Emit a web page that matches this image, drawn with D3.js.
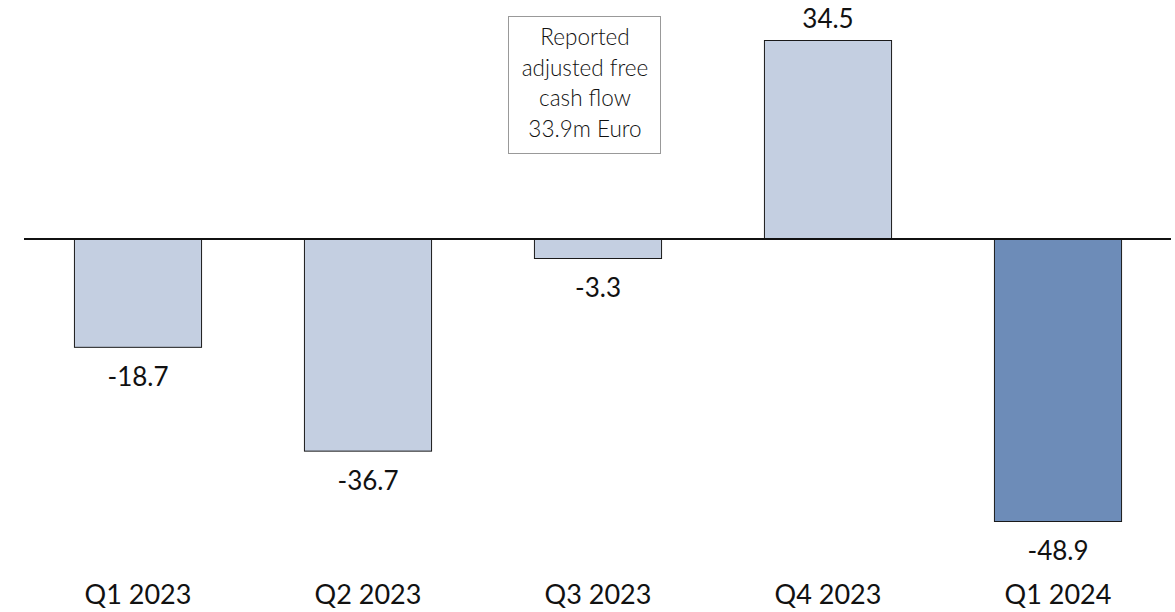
<!DOCTYPE html>
<html>
<head>
<meta charset="utf-8">
<script src="https://cdn.jsdelivr.net/npm/d3@7"></script>
<style>
  body { margin: 0; background: #fff; }
  text { font-family: Lato, "Open Sans", sans-serif; fill: #111; }
</style>
</head>
<body>
<svg id="chart" width="1175" height="612"></svg>
<script>
const quarters = ["Q1 2023", "Q2 2023", "Q3 2023", "Q4 2023", "Q1 2024"];
const cashFlow = [-18.7, -36.7, -3.3, 34.5, -48.9];
const highlight = ["Q1 2024"];
const noteLines = ["Reported", "adjusted free", "cash flow", "33.9m Euro"];

const data = quarters.map((q, i) => ({ q, v: cashFlow[i] }));

const svg = d3.select("#chart");

const x = d3.scaleBand()
  .domain(quarters)
  .range([23, 1173])
  .paddingInner(0.443)
  .paddingOuter(0.2215);

const y = d3.scaleLinear()
  .domain([-48.9, 34.5])
  .range([521, 40]);

// Bars
svg.selectAll(".bar")
  .data(data)
  .join("rect")
  .attr("class", "bar")
  .attr("x", d => x(d.q) + 0.5)
  .attr("y", d => Math.min(y(d.v), y(0)) + 0.5)
  .attr("width", x.bandwidth() - 1)
  .attr("height", d => Math.abs(y(d.v) - y(0)))
  .attr("fill", d => highlight.includes(d.q) ? "#6d8cb8" : "#c4cfe1")
  .attr("stroke", "#1a1a1a")
  .attr("stroke-width", 1);

// Zero line
svg.append("line")
  .attr("x1", 24).attr("x2", 1171)
  .attr("y1", y(0)).attr("y2", y(0))
  .attr("stroke", "#111")
  .attr("stroke-width", 2);

// Value labels
svg.selectAll(".val")
  .data(data)
  .join("text")
  .attr("class", "val")
  .attr("x", d => x(d.q) + x.bandwidth() / 2)
  .attr("y", d => d.v >= 0 ? y(d.v) - 12 : y(d.v) + 39)
  .attr("text-anchor", "middle")
  .style("font-size", "26px")
  .text(d => d.v.toFixed(1));

// Category labels
svg.selectAll(".cat")
  .data(quarters)
  .join("text")
  .attr("class", "cat")
  .attr("x", d => x(d) + x.bandwidth() / 2)
  .attr("y", 604)
  .attr("text-anchor", "middle")
  .style("font-size", "27px")
  .text(d => d);

// Annotation box
const note = svg.append("g");
note.append("rect")
  .attr("x", 508.5).attr("y", 16.5)
  .attr("width", 152).attr("height", 137)
  .attr("fill", "#fff")
  .attr("stroke", "#999")
  .attr("stroke-width", 1);
note.selectAll("text")
  .data(noteLines)
  .join("text")
  .attr("x", 585)
  .attr("y", (d, i) => 45 + i * 30.5)
  .attr("text-anchor", "middle")
  .style("font-size", "22.5px")
  .style("font-weight", 300)
  .text(d => d);
</script>
</body>
</html>
